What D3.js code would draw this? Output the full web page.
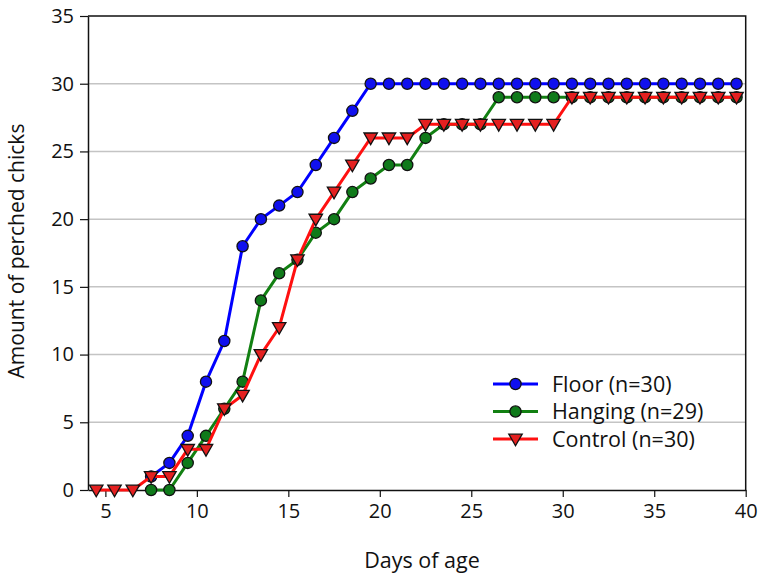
<!DOCTYPE html>
<html>
<head>
<meta charset="utf-8">
<script src="https://cdn.jsdelivr.net/npm/d3@7/dist/d3.min.js"></script>
<style>
  body { margin: 0; background: #fff; }
  svg text { font-family: 'Open Sans', sans-serif; fill: #111; }
</style>
</head>
<body>
<div id="chart"></div>
<script>
'use strict';

// days of age (points sit half a day after the day mark)
const floorDays = [7.5, 8.5, 9.5, 10.5, 11.5, 12.5, 13.5, 14.5, 15.5, 16.5, 17.5, 18.5, 19.5, 20.5, 21.5, 22.5, 23.5, 24.5, 25.5, 26.5, 27.5, 28.5, 29.5, 30.5, 31.5, 32.5, 33.5, 34.5, 35.5, 36.5, 37.5, 38.5, 39.5];
const floorVals = [1, 2, 4, 8, 11, 18, 20, 21, 22, 24, 26, 28, 30, 30, 30, 30, 30, 30, 30, 30, 30, 30, 30, 30, 30, 30, 30, 30, 30, 30, 30, 30, 30];

const hangingDays = [7.5, 8.5, 9.5, 10.5, 11.5, 12.5, 13.5, 14.5, 15.5, 16.5, 17.5, 18.5, 19.5, 20.5, 21.5, 22.5, 23.5, 24.5, 25.5, 26.5, 27.5, 28.5, 29.5, 30.5, 31.5, 32.5, 33.5, 34.5, 35.5, 36.5, 37.5, 38.5, 39.5];
const hangingVals = [0, 0, 2, 4, 6, 8, 14, 16, 17, 19, 20, 22, 23, 24, 24, 26, 27, 27, 27, 29, 29, 29, 29, 29, 29, 29, 29, 29, 29, 29, 29, 29, 29];

const controlDays = [4.5, 5.5, 6.5, 7.5, 8.5, 9.5, 10.5, 11.5, 12.5, 13.5, 14.5, 15.5, 16.5, 17.5, 18.5, 19.5, 20.5, 21.5, 22.5, 23.5, 24.5, 25.5, 26.5, 27.5, 28.5, 29.5, 30.5, 31.5, 32.5, 33.5, 34.5, 35.5, 36.5, 37.5, 38.5, 39.5];
const controlVals = [0, 0, 0, 1, 1, 3, 3, 6, 7, 10, 12, 17, 20, 22, 24, 26, 26, 26, 27, 27, 27, 27, 27, 27, 27, 27, 29, 29, 29, 29, 29, 29, 29, 29, 29, 29];

const xTicks = [5, 10, 15, 20, 25, 30, 35, 40];
const yTicks = [0, 5, 10, 15, 20, 25, 30, 35];
const gridTicks = [5, 10, 15, 20, 25, 30];

const series = [
    {name: 'Floor (n=30)', days: floorDays, vals: floorVals, line: '#0000ff', fill: '#1010ee', shape: 'circle'},
    {name: 'Hanging (n=29)', days: hangingDays, vals: hangingVals, line: '#128012', fill: '#0f7a1a', shape: 'circle'},
    {name: 'Control (n=30)', days: controlDays, vals: controlVals, line: '#ff1010', fill: '#e42020', shape: 'tri'}
];

const width = 763;
const height = 576;
const pLeft = 88, pRight = 745.7, pTop = 16, pBottom = 490;

const svg = d3.select('#chart').append('svg')
    .attr('width', width)
    .attr('height', height);

const x = d3.scaleLinear().domain([4.05, 40]).range([pLeft, pRight]);
const y = d3.scaleLinear().domain([0, 35]).range([pBottom, pTop]);

// grid
svg.append('g')
    .selectAll('line')
    .data(gridTicks)
    .enter()
    .append('line')
    .attr('x1', pLeft).attr('x2', pRight)
    .attr('y1', d => y(d)).attr('y2', d => y(d))
    .attr('stroke', '#c4c4c4')
    .attr('stroke-width', 1.5);

// frame top + right
svg.append('path')
    .attr('d', `M${pLeft},${pTop}H${pRight}V${pBottom}`)
    .attr('fill', 'none')
    .attr('stroke', '#111')
    .attr('stroke-width', 1.5);

const xAxis = svg.append('g')
    .attr('transform', `translate(0,${pBottom})`)
    .call(d3.axisBottom(x).tickValues(xTicks).tickSize(7).tickPadding(14).tickSizeOuter(0));
const yAxis = svg.append('g')
    .attr('transform', `translate(${pLeft},0)`)
    .call(d3.axisLeft(y).tickValues(yTicks).tickSize(8).tickPadding(6).tickSizeOuter(0));
[xAxis, yAxis].forEach(a => {
    a.select('.domain').attr('stroke', '#111').attr('stroke-width', 1.5);
    a.selectAll('.tick line').attr('stroke', '#111').attr('stroke-width', 1.2);
    a.selectAll('.tick text').attr('font-size', 20).attr('fill', '#111');
});
xAxis.selectAll('.tick text').attr('dy', '0.35em');

svg.append('text')
    .attr('x', 422).attr('y', 568)
    .attr('text-anchor', 'middle')
    .attr('font-size', 21.5)
    .text('Days of age');
svg.append('text')
    .attr('transform', 'translate(24,251) rotate(-90)')
    .attr('text-anchor', 'middle')
    .attr('font-size', 21)
    .text('Amount of perched chicks');

const tri = d3.symbol().type(d3.symbolTriangle).size(78);

function marker(g, s) {
    if (s.shape === 'circle') {
        g.append('circle').attr('r', 5.6);
    } else {
        g.append('path').attr('d', tri).attr('transform', 'rotate(180) translate(0,1)');
    }
    g.selectAll('circle,path')
        .attr('fill', s.fill)
        .attr('stroke', '#111')
        .attr('stroke-width', 1.3);
}

const line = d3.line().x(d => x(d[0])).y(d => y(d[1]));

series.forEach(s => {
    const pts = s.days.map((d, i) => [d, s.vals[i]]);
    const g = svg.append('g');
    g.append('path')
        .datum(pts)
        .attr('d', line)
        .attr('fill', 'none')
        .attr('stroke', s.line)
        .attr('stroke-width', 3);
    g.selectAll('g.pt')
        .data(pts)
        .enter()
        .append('g')
        .attr('class', 'pt')
        .attr('transform', d => `translate(${x(d[0])},${y(d[1])})`)
        .each(function () { marker(d3.select(this), s); });
});

// legend
const legend = svg.append('g').attr('transform', 'translate(493,384)');
series.forEach((s, i) => {
    const row = legend.append('g').attr('transform', `translate(0,${i * 27.5})`);
    row.append('line')
        .attr('x1', 0).attr('x2', 45)
        .attr('stroke', s.line)
        .attr('stroke-width', 3);
    const m = row.append('g').attr('transform', 'translate(22.5,0)');
    marker(m, s);
    row.append('text')
        .attr('x', 59).attr('y', 0)
        .attr('dy', '0.35em')
        .attr('font-size', 21.5)
        .text(s.name);
});
</script>
</body>
</html>
